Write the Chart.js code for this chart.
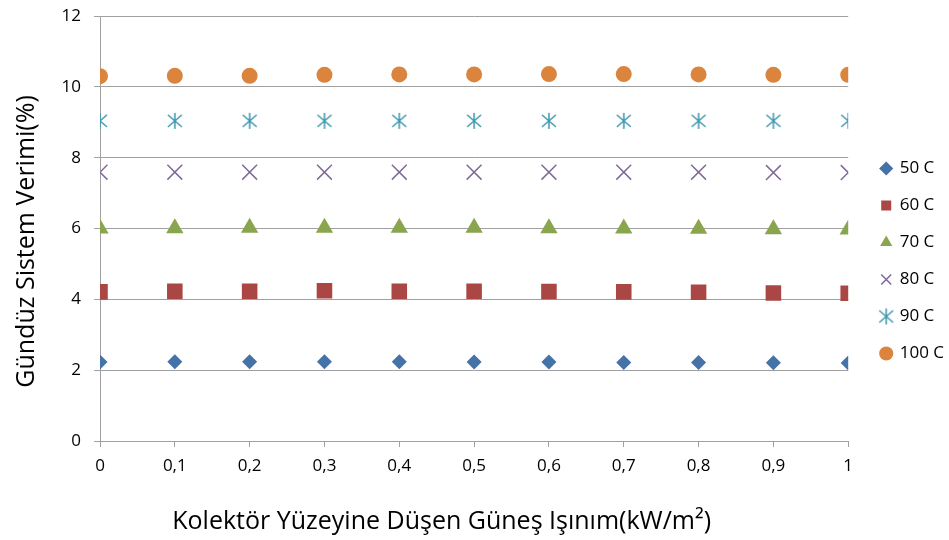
<!DOCTYPE html>
<html>
<head>
<meta charset="utf-8">
<script src="https://cdn.jsdelivr.net/npm/chart.js@4.4.1/dist/chart.umd.min.js"></script>
<style>
  html, body { margin: 0; padding: 0; background: #fff; }
</style>
</head>
<body>
<canvas id="chart" width="949" height="540"></canvas>
<script>
// --- DATA ---
const irradiance = [0, 0.1, 0.2, 0.3, 0.4, 0.5, 0.6, 0.7, 0.8, 0.9, 1];
const eff50  = [2.23, 2.24, 2.24, 2.24, 2.24, 2.23, 2.23, 2.22, 2.22, 2.21, 2.20];
const eff60  = [4.21, 4.23, 4.23, 4.24, 4.23, 4.23, 4.22, 4.21, 4.20, 4.18, 4.17];
const eff70  = [6.00, 6.01, 6.02, 6.02, 6.02, 6.02, 6.01, 6.00, 5.99, 5.98, 5.97];
const eff80  = [7.59, 7.59, 7.59, 7.59, 7.59, 7.59, 7.59, 7.59, 7.59, 7.58, 7.58];
const eff90  = [9.04, 9.04, 9.04, 9.04, 9.04, 9.04, 9.04, 9.04, 9.04, 9.04, 9.04];
const eff100 = [10.30, 10.31, 10.31, 10.34, 10.35, 10.35, 10.36, 10.36, 10.35, 10.34, 10.34];
const yTicks = [0, 2, 4, 6, 8, 10, 12];

const FONT = "'Open Sans', 'Liberation Sans', sans-serif";
const GRID = '#a0a0a0';

// asterisk marker (Excel "star"): X plus a vertical bar
function makeStar(color) {
    const c = document.createElement('canvas');
    c.width = 18; c.height = 18;
    const g = c.getContext('2d');
    g.strokeStyle = color;
    g.lineWidth = 1.5;
    g.beginPath();
    g.moveTo(9, 1); g.lineTo(9, 17);
    g.moveTo(2, 3); g.lineTo(16, 15);
    g.moveTo(16, 3); g.lineTo(2, 15);
    g.stroke();
    return c;
}

function pts(arr) {
    return irradiance.map((x, i) => ({ x: x, y: arr[i] }));
}

// legend sits a bit further right and lower than Chart.js puts it
const legendPlace = {
    id: 'legendPlace',
    afterLayout(chart) {
        const lg = chart.legend;
        const area = chart.chartArea;
        const w = lg.right - lg.left;
        lg.left = area.right + 13;
        lg.right = lg.left + w;
        lg.top = area.top + 124;
    }
};

new Chart(document.getElementById('chart'), {
    type: 'scatter',
    data: {
        datasets: [
            { label: '50 C', data: pts(eff50), pointStyle: 'rectRot', pointRadius: 7.5,
              backgroundColor: '#4572A7', borderColor: '#4572A7', borderWidth: 0 },
            { label: '60 C', data: pts(eff60), pointStyle: 'rect', pointRadius: 11,
              backgroundColor: '#AA4643', borderColor: '#AA4643', borderWidth: 0 },
            { label: '70 C', data: pts(eff70), pointStyle: 'triangle', pointRadius: 10,
              backgroundColor: '#89A54E', borderColor: '#89A54E', borderWidth: 0 },
            { label: '80 C', data: pts(eff80), pointStyle: 'crossRot', pointRadius: 10.5,
              backgroundColor: '#80699B', borderColor: '#80699B', borderWidth: 1.5 },
            { label: '90 C', data: pts(eff90), pointStyle: makeStar('#3D96AE'), pointRadius: 9,
              backgroundColor: '#3D96AE', borderColor: '#3D96AE', borderWidth: 1.5 },
            { label: '100 C', data: pts(eff100), pointStyle: 'circle', pointRadius: 8,
              backgroundColor: '#DB843D', borderColor: '#DB843D', borderWidth: 0 }
        ]
    },
    options: {
        responsive: false,
        animation: false,
        events: [],
        layout: { padding: { top: 16, right: 8, left: 0, bottom: 0 } },
        plugins: {
            tooltip: { enabled: false },
            legend: {
                position: 'right',
                align: 'start',
                labels: {
                    usePointStyle: true,
                    boxWidth: 10,
                    boxHeight: 10,
                    padding: 20,
                    color: '#000',
                    font: { family: FONT, size: 17 }
                }
            }
        },
        scales: {
            x: {
                type: 'linear',
                min: 0,
                max: 1,
                afterFit(scale) { scale.height = 99; },
                ticks: {
                    stepSize: 0.1,
                    padding: 9,
                    color: '#000',
                    font: { family: FONT, size: 17 },
                    callback: v => String(Number(v.toFixed(1))).replace('.', ',')
                },
                grid: { drawOnChartArea: false, drawTicks: true, tickLength: 6, color: GRID },
                border: { display: true, color: GRID },
                title: {
                    display: true,
                    text: 'Kolektör Yüzeyine Düşen Güneş Işınım(kW/m²)          ',
                    color: '#000',
                    font: { family: FONT, size: 25 },
                    padding: { top: 0, bottom: 3 }
                }
            },
            y: {
                min: yTicks[0],
                max: yTicks[yTicks.length - 1],
                afterFit(scale) {
                    scale.width = 100;
                    scale.paddingTop = 0;
                    scale.paddingBottom = 0;
                },
                afterBuildTicks(scale) { scale.ticks = yTicks.map(v => ({ value: v })); },
                ticks: {
                    padding: 13,
                    color: '#000',
                    font: { family: FONT, size: 17 }
                },
                grid: { drawTicks: true, tickLength: 6, color: GRID },
                border: { display: true, color: GRID },
                title: {
                    display: true,
                    text: 'Gündüz Sistem Verimi(%)    ',
                    color: '#000',
                    font: { family: FONT, size: 25 },
                    padding: { top: 12, bottom: 0 }
                }
            }
        }
    },
    plugins: [legendPlace]
});
</script>
</body>
</html>
